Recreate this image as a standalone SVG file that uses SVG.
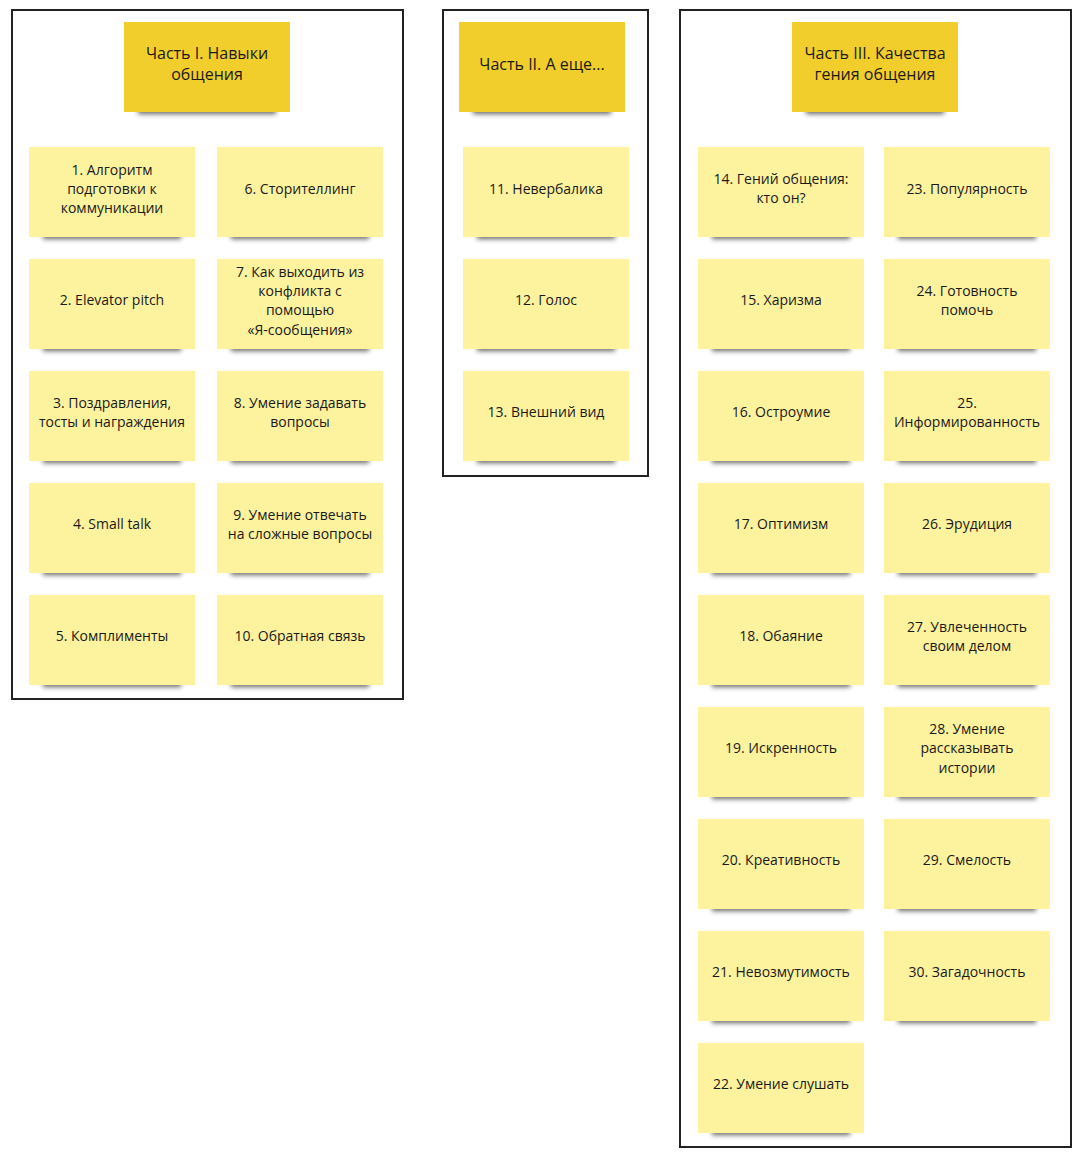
<svg xmlns="http://www.w3.org/2000/svg" width="1080" height="1160" viewBox="0 0 1080 1160">
<defs>
<filter id="sh" x="-20%" y="-80%" width="140%" height="260%"><feGaussianBlur stdDeviation="2.5"/></filter>
<g id="s"><rect x="14" y="84" width="138" height="8" fill="#333" opacity="0.75" filter="url(#sh)"/><rect width="166" height="90" fill="#fdf29e"/></g>
<g id="h"><rect x="14" y="84" width="138" height="8" fill="#333" opacity="0.75" filter="url(#sh)"/><rect width="166" height="90" fill="#f2ce2c"/></g>
</defs>
<style>
text{font-family:"Open Sans","Noto Sans",sans-serif;font-size:14px;fill:#1a1a1a;text-anchor:middle}
.t{font-size:16px}
.f{fill:#fff;stroke:#222;stroke-width:2}
</style>
<rect width="1080" height="1160" fill="#fff"/>
<rect class="f" x="12" y="10" width="391" height="689"/>
<rect class="f" x="443" y="10" width="205" height="466"/>
<rect class="f" x="680" y="10" width="391" height="1137"/>
<g id="h1"><use href="#h" x="124" y="22"/><text class="t" x="207" y="59">Часть I. Навыки</text><text class="t" x="207" y="80">общения</text></g>
<g id="h2"><use href="#h" x="459" y="22"/><text class="t" x="542" y="70">Часть II. А еще...</text></g>
<g id="h3"><use href="#h" x="792" y="22"/><text class="t" x="875" y="59">Часть III. Качества</text><text class="t" x="875" y="80">гения общения</text></g>
<g id="n1"><use href="#s" x="29" y="147"/><text x="112" y="175">1. Алгоритм</text><text x="112" y="194">подготовки к</text><text x="112" y="213">коммуникации</text></g>
<g id="n2"><use href="#s" x="29" y="259"/><text x="112" y="305">2. Elevator pitch</text></g>
<g id="n3"><use href="#s" x="29" y="371"/><text x="112" y="408">3. Поздравления,</text><text x="112" y="427">тосты и награждения</text></g>
<g id="n4"><use href="#s" x="29" y="483"/><text x="112" y="529">4. Small talk</text></g>
<g id="n5"><use href="#s" x="29" y="595"/><text x="112" y="641">5. Комплименты</text></g>
<g id="n6"><use href="#s" x="217" y="147"/><text x="300" y="194">6. Сторителлинг</text></g>
<g id="n7"><use href="#s" x="217" y="259"/><text x="300" y="277">7. Как выходить из</text><text x="300" y="296">конфликта с</text><text x="300" y="315">помощью</text><text x="300" y="335">«Я-сообщения»</text></g>
<g id="n8"><use href="#s" x="217" y="371"/><text x="300" y="408">8. Умение задавать</text><text x="300" y="427">вопросы</text></g>
<g id="n9"><use href="#s" x="217" y="483"/><text x="300" y="520">9. Умение отвечать</text><text x="300" y="539">на сложные вопросы</text></g>
<g id="n10"><use href="#s" x="217" y="595"/><text x="300" y="641">10. Обратная связь</text></g>
<g id="n11"><use href="#s" x="463" y="147"/><text x="546" y="194">11. Невербалика</text></g>
<g id="n12"><use href="#s" x="463" y="259"/><text x="546" y="305">12. Голос</text></g>
<g id="n13"><use href="#s" x="463" y="371"/><text x="546" y="417">13. Внешний вид</text></g>
<g id="n14"><use href="#s" x="698" y="147"/><text x="781" y="184">14. Гений общения:</text><text x="781" y="203">кто он?</text></g>
<g id="n15"><use href="#s" x="698" y="259"/><text x="781" y="305">15. Харизма</text></g>
<g id="n16"><use href="#s" x="698" y="371"/><text x="781" y="417">16. Остроумие</text></g>
<g id="n17"><use href="#s" x="698" y="483"/><text x="781" y="529">17. Оптимизм</text></g>
<g id="n18"><use href="#s" x="698" y="595"/><text x="781" y="641">18. Обаяние</text></g>
<g id="n19"><use href="#s" x="698" y="707"/><text x="781" y="753">19. Искренность</text></g>
<g id="n20"><use href="#s" x="698" y="819"/><text x="781" y="865">20. Креативность</text></g>
<g id="n21"><use href="#s" x="698" y="931"/><text x="781" y="977">21. Невозмутимость</text></g>
<g id="n22"><use href="#s" x="698" y="1043"/><text x="781" y="1089">22. Умение слушать</text></g>
<g id="n23"><use href="#s" x="884" y="147"/><text x="967" y="194">23. Популярность</text></g>
<g id="n24"><use href="#s" x="884" y="259"/><text x="967" y="296">24. Готовность</text><text x="967" y="315">помочь</text></g>
<g id="n25"><use href="#s" x="884" y="371"/><text x="967" y="408">25.</text><text x="967" y="427">Информированность</text></g>
<g id="n26"><use href="#s" x="884" y="483"/><text x="967" y="529">26. Эрудиция</text></g>
<g id="n27"><use href="#s" x="884" y="595"/><text x="967" y="632">27. Увлеченность</text><text x="967" y="651">своим делом</text></g>
<g id="n28"><use href="#s" x="884" y="707"/><text x="967" y="734">28. Умение</text><text x="967" y="753">рассказывать</text><text x="967" y="773">истории</text></g>
<g id="n29"><use href="#s" x="884" y="819"/><text x="967" y="865">29. Смелость</text></g>
<g id="n30"><use href="#s" x="884" y="931"/><text x="967" y="977">30. Загадочность</text></g>
<g id="connectors"/>
</svg>
